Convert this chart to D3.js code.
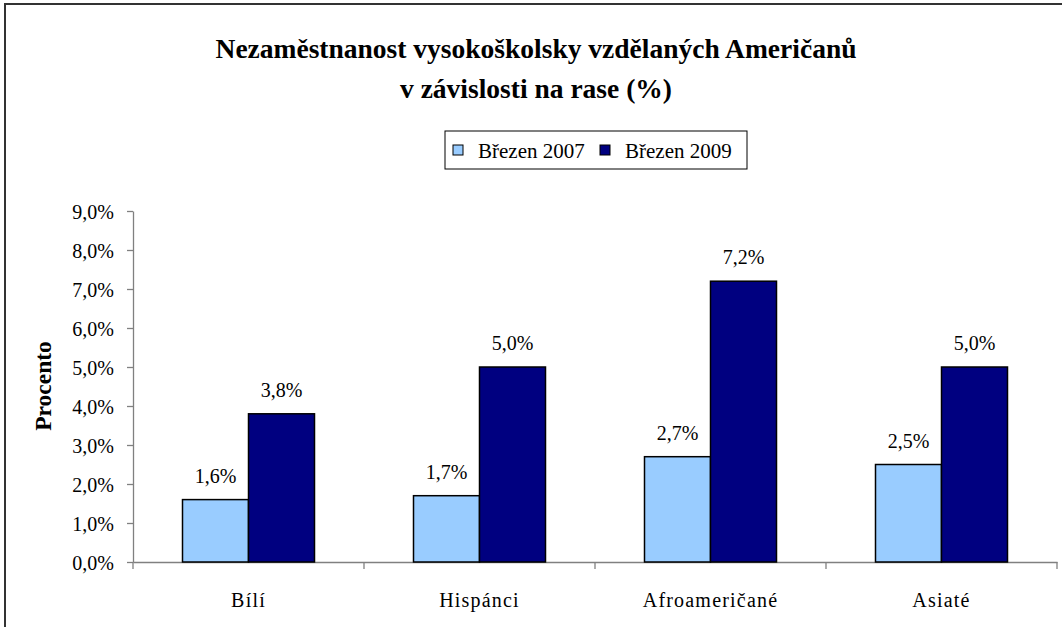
<!DOCTYPE html>
<html>
<head>
<meta charset="utf-8">
<script src="https://cdn.jsdelivr.net/npm/d3@7"></script>
<style>
  html, body { margin: 0; padding: 0; background: #fff; }
  svg { display: block; }
  svg text { font-family: "Liberation Serif", "Times New Roman", serif; }
</style>
</head>
<body>
<svg id="chart" width="1062" height="627"></svg>
<script>
const categories = ["Bílí", "Hispánci", "Afroameričané", "Asiaté"];
const seriesNames = ["Březen 2007", "Březen 2009"];
const values2007 = [1.6, 1.7, 2.7, 2.5];
const values2009 = [3.8, 5.0, 7.2, 5.0];
const yTicks = [0, 1, 2, 3, 4, 5, 6, 7, 8, 9];
const titleLines = ["Nezaměstnanost vysokoškolsky vzdělaných Američanů", "v závislosti na rase (%)"];
const yAxisTitle = "Procento";
const colors = ["#99CCFF", "#000080"];

const seriesValues = [values2007, values2009];
const fmt = v => v.toFixed(1).replace(".", ",") + "%";
const SERIF = "Liberation Serif, Times New Roman, serif";

const svg = d3.select("#chart");

// outer frame
svg.append("rect").attr("x", 5).attr("y", 4).attr("width", 1070).attr("height", 640)
  .attr("fill", "#fff").attr("stroke", "#333").attr("stroke-width", 2);

const plot = { left: 133, right: 1057, top: 211, bottom: 562 };

const x0 = d3.scaleBand().domain(categories).range([plot.left, plot.right]).padding(0);
const barW = x0.bandwidth() / 3.5;
const x1 = d3.scaleBand().domain(seriesNames).range([0, barW * 2]).padding(0);
const y = d3.scaleLinear().domain([0, 9]).range([plot.bottom, plot.top]);

// title
const title = svg.append("text").attr("text-anchor", "middle").attr("font-family", SERIF)
  .attr("font-weight", "bold").attr("font-size", 27.5).attr("fill", "#000");
titleLines.forEach((t, i) => {
  title.append("tspan").attr("x", 536).attr("y", 58 + i * 40).text(t);
});

// y axis
const yAxis = d3.axisLeft(y).tickValues(yTicks).tickSize(6).tickSizeOuter(0).tickFormat(fmt);
const gy = svg.append("g").attr("transform", `translate(${plot.left},0)`).call(yAxis)
  .attr("font-family", SERIF);
gy.select(".domain").attr("stroke", "#808080").attr("stroke-width", 1.3);
gy.selectAll(".tick line").attr("stroke", "#808080").attr("stroke-width", 1.3);
gy.selectAll(".tick text").attr("font-family", SERIF).attr("font-size", 20)
  .attr("fill", "#000").attr("x", -19).attr("dy", "0.35em");

// x axis
const xAxis = d3.axisBottom(x0).tickSize(0).tickSizeOuter(0);
const gx = svg.append("g").attr("transform", `translate(0,${plot.bottom})`).call(xAxis)
  .attr("font-family", SERIF);
gx.select(".domain").attr("stroke", "#808080").attr("stroke-width", 1.3);
gx.selectAll(".tick text").attr("font-family", SERIF).attr("font-size", 20)
  .attr("fill", "#000").attr("y", 38).attr("dy", "0.35em").attr("letter-spacing", 1.2);
// category separator ticks
const seps = categories.map(c => x0(c)).concat([plot.right]);
gx.selectAll(".sep").data(seps).enter().append("line").attr("class", "sep")
  .attr("x1", d => d).attr("x2", d => d).attr("y1", 0).attr("y2", 7)
  .attr("stroke", "#808080").attr("stroke-width", 1.3);

// bars
const groups = svg.append("g").selectAll("g").data(categories).enter().append("g")
  .attr("transform", d => `translate(${x0(d) + (x0.bandwidth() - barW * 2) / 2},0)`);

seriesNames.forEach((s, si) => {
  groups.append("rect")
    .attr("x", x1(s))
    .attr("y", (d, i) => y(seriesValues[si][i]))
    .attr("width", x1.bandwidth())
    .attr("height", (d, i) => plot.bottom - y(seriesValues[si][i]))
    .attr("fill", colors[si]).attr("stroke", "#000").attr("stroke-width", 1.5);
  groups.append("text")
    .attr("x", x1(s) + x1.bandwidth() / 2)
    .attr("y", (d, i) => y(seriesValues[si][i]) - 17)
    .attr("text-anchor", "middle").attr("font-family", SERIF).attr("font-size", 20).attr("fill", "#000")
    .text((d, i) => fmt(seriesValues[si][i]));
});

// y axis title
svg.append("text").attr("transform", "translate(51,386) rotate(-90)")
  .attr("text-anchor", "middle").attr("font-family", SERIF).attr("font-weight", "bold").attr("font-size", 23.5)
  .text(yAxisTitle);

// legend
const lg = svg.append("g");
lg.append("rect").attr("x", 445).attr("y", 131).attr("width", 302).attr("height", 38)
  .attr("fill", "#fff").attr("stroke", "#000").attr("stroke-width", 1);
const legendX = [453, 600];
seriesNames.forEach((s, i) => {
  lg.append("rect").attr("x", legendX[i]).attr("y", 145).attr("width", 10).attr("height", 10)
    .attr("fill", colors[i]).attr("stroke", "#000").attr("stroke-width", 1);
  lg.append("text").attr("x", legendX[i] + 25).attr("y", 158).attr("font-family", SERIF)
    .attr("font-size", 21).text(s);
});
</script>
</body>
</html>
